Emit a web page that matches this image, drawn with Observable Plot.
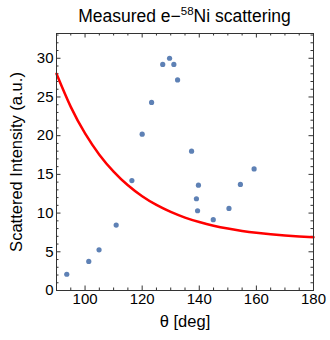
<!DOCTYPE html>
<html>
<head>
<meta charset="utf-8">
<script src="https://cdn.jsdelivr.net/npm/d3@7"></script>
<script src="https://cdn.jsdelivr.net/npm/@observablehq/plot@0.6"></script>
<style>
  html, body { margin: 0; padding: 0; background: #fff; }
  #wrap { width: 330px; height: 340px; position: relative; font-family: "Liberation Sans", Arial, sans-serif; }
  #title { position: absolute; left: 56px; width: 257px; top: 5px; text-align: center; font-size: 17.5px; line-height: 22px; color: #000; white-space: nowrap; }
  #title sup { font-size: 11.5px; line-height: 0; }
  #chart { position: absolute; left: 0; top: 30px; }
</style>
</head>
<body>
<div id="wrap">
  <div id="title">Measured e&minus;<sup>58</sup>Ni scattering</div>
  <div id="chart"></div>
</div>
<script>
// Measured points
const theta = [93.6, 101.3, 104.9, 110.9, 116.4, 120.0, 123.3, 127.2, 129.6, 131.1, 132.4, 137.3, 139.0, 139.4, 139.7, 144.9, 150.4, 154.4, 159.2];
const intensity = [2.1, 3.75, 5.25, 8.45, 14.2, 20.2, 24.3, 29.2, 30.0, 29.2, 27.2, 18.0, 11.85, 10.3, 13.6, 9.15, 10.6, 13.7, 15.7];

// Fitted curve
const fitTheta = [90, 95, 100, 105, 110, 115, 120, 125, 130, 135, 140, 145, 150, 155, 160, 165, 170, 175, 180];
const fitIntensity = [28.0, 23.72, 20.3, 17.55, 15.36, 13.59, 12.18, 11.05, 10.15, 9.42, 8.84, 8.37, 8.0, 7.7, 7.46, 7.27, 7.12, 6.99, 6.89];

// Tick values
const xMajor = [100, 120, 140, 160, 180];
const xMinor = [90, 95, 105, 110, 115, 125, 130, 135, 145, 150, 155, 165, 170, 175];
const yMajor = [0, 5, 10, 15, 20, 25, 30];
const yMinor = [1, 2, 3, 4, 6, 7, 8, 9, 11, 12, 13, 14, 16, 17, 18, 19, 21, 22, 23, 24, 26, 27, 28, 29, 31, 32, 33];

const points = theta.map((t, i) => ({t, v: intensity[i]}));
const fit = fitTheta.map((t, i) => ({t, v: fitIntensity[i]}));

const W = 330, H = 310;
const mL = 56, mR = 17, mT = 3, mB = 50;
const innerW = W - mL - mR, innerH = H - mT - mB;
const major = 4.5, minor = 2.5;
const tickColor = "#333";
const font = 15;

const plot = Plot.plot({
  width: W,
  height: H,
  marginLeft: mL,
  marginRight: mR,
  marginTop: mT,
  marginBottom: mB,
  style: {fontFamily: "Liberation Sans, Arial, sans-serif", fontSize: font + "px", color: "#000", background: "#fff"},
  x: {domain: [90, 180]},
  y: {domain: [0, 33.2]},
  marks: [
    // inward ticks on all four sides
    Plot.tickX(xMajor, {x: d => d, insetTop: innerH - major, stroke: tickColor}),
    Plot.tickX(xMinor, {x: d => d, insetTop: innerH - minor, stroke: tickColor}),
    Plot.tickX(xMajor, {x: d => d, insetBottom: innerH - major, stroke: tickColor}),
    Plot.tickX(xMinor, {x: d => d, insetBottom: innerH - minor, stroke: tickColor}),
    Plot.tickY(yMajor, {y: d => d, insetRight: innerW - major, stroke: tickColor}),
    Plot.tickY(yMinor, {y: d => d, insetRight: innerW - minor, stroke: tickColor}),
    Plot.tickY(yMajor, {y: d => d, insetLeft: innerW - major, stroke: tickColor}),
    Plot.tickY(yMinor, {y: d => d, insetLeft: innerW - minor, stroke: tickColor}),
    // tick labels
    Plot.axisX(xMajor, {anchor: "bottom", tickSize: 0, tickPadding: 3, label: null, fill: "#000", fontSize: font}),
    Plot.axisY(yMajor, {anchor: "left", tickSize: 0, tickPadding: 3, label: null, fill: "#000", fontSize: font}),
    // axis labels
    Plot.text(["θ [deg]"], {text: d => d, frameAnchor: "bottom", dy: 31.5, textAnchor: "middle", lineAnchor: "middle", fontSize: 16.5, fill: "#000"}),
    Plot.text(["Scattered Intensity (a.u.)"], {text: d => d, frameAnchor: "left", rotate: -90, dx: -40, textAnchor: "middle", lineAnchor: "middle", fontSize: 16.5, fill: "#000"}),
    // data
    Plot.line(fit, {x: "t", y: "v", curve: "natural", stroke: "#ff0000", strokeWidth: 2.5}),
    Plot.dot(points, {x: "t", y: "v", r: 2.6, fill: "#5e81b5", stroke: "none"}),
    Plot.frame({stroke: tickColor, strokeWidth: 1})
  ]
});
document.getElementById("chart").appendChild(plot);
</script>
</body>
</html>
